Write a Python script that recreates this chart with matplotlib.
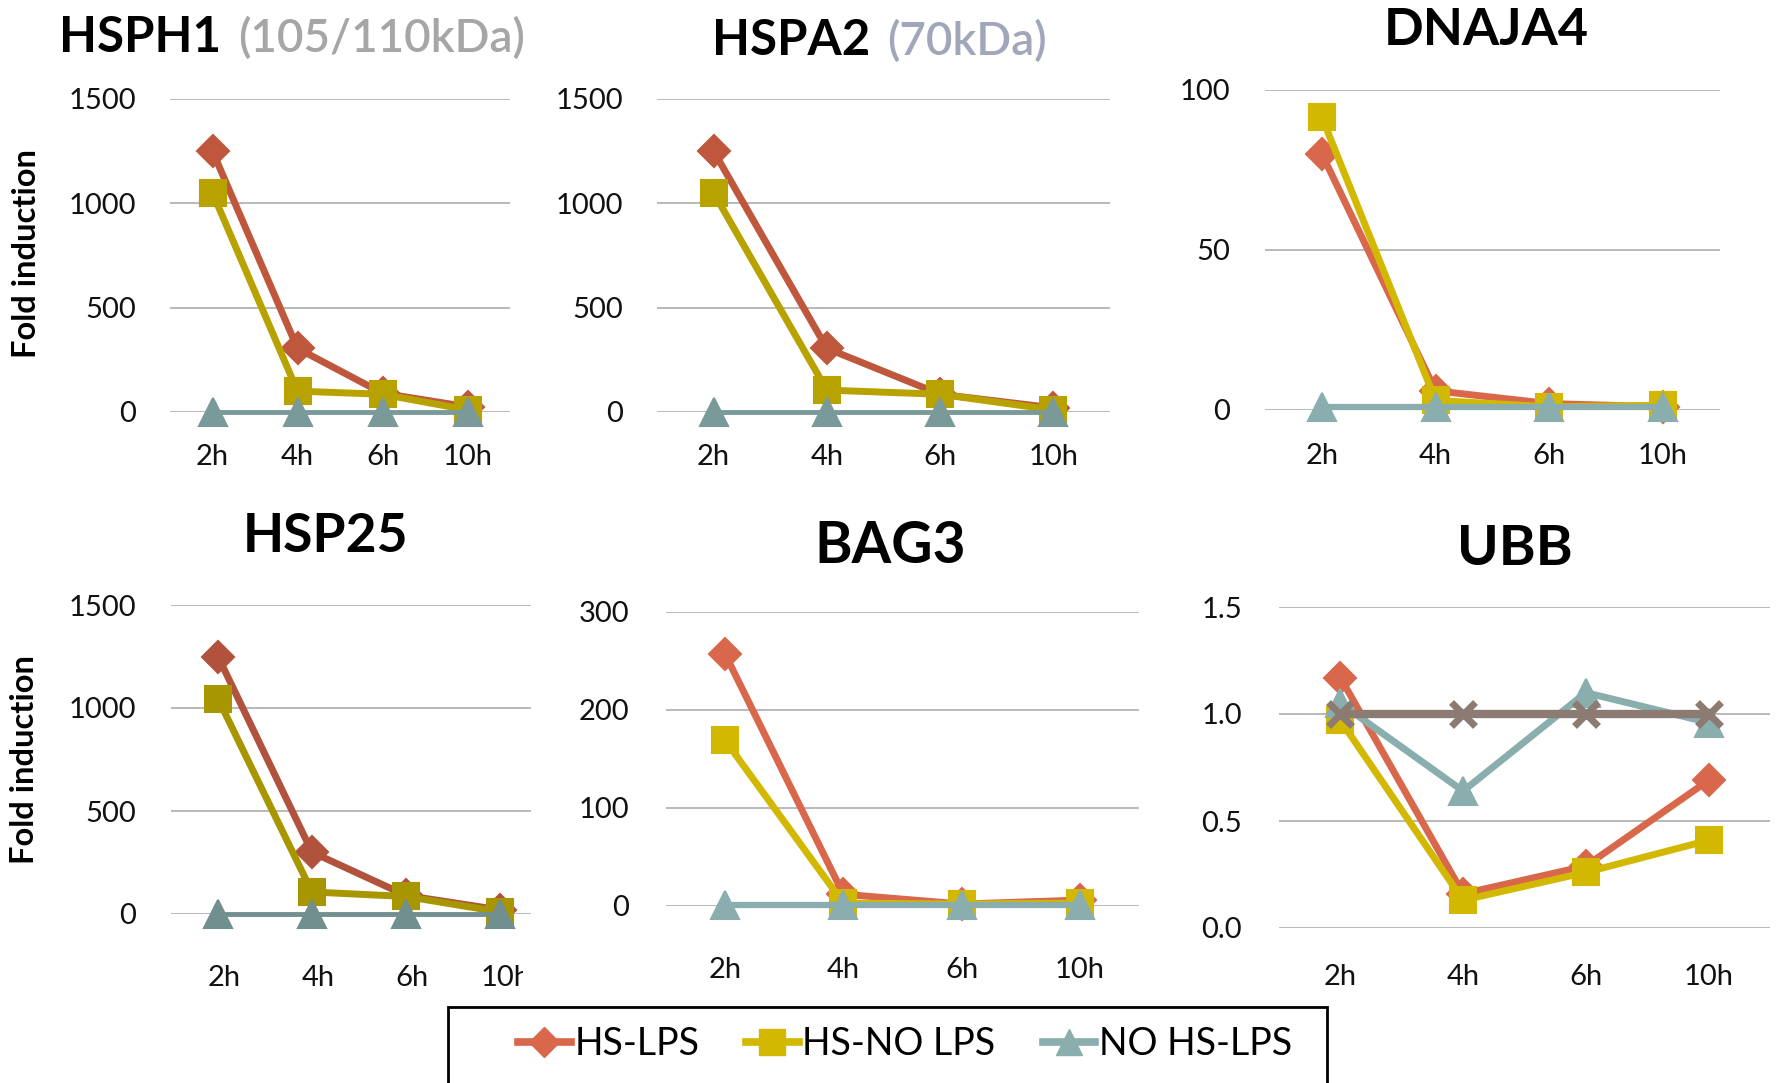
import matplotlib.pyplot as plt
import matplotlib.transforms as mtransforms
from matplotlib.lines import Line2D
from matplotlib.patches import Rectangle

plt.rcParams['font.family'] = ['Lato', 'DejaVu Sans']

W, H = 1779, 1083

times = ['2h', '4h', '6h', '10h']
series_names = ['HS-LPS', 'HS-NO LPS', 'NO HS-LPS']

# values (fold induction)
hsph1_hs_lps = [1250, 305, 90, 25]
hsph1_hs_nolps = [1050, 100, 85, 10]
hsph1_nohs_lps = [1, 1, 1, 1]

hspa2_hs_lps = [1250, 305, 85, 20]
hspa2_hs_nolps = [1050, 105, 85, 10]
hspa2_nohs_lps = [1, 1, 1, 1]

dnaja4_hs_lps = [80, 6, 2, 1]
dnaja4_hs_nolps = [91.5, 3, 1, 1.5]
dnaja4_nohs_lps = [1, 1, 1, 1]

hsp25_hs_lps = [1250, 300, 90, 20]
hsp25_hs_nolps = [1045, 107, 85, 10]
hsp25_nohs_lps = [1, 1, 1, 1]

bag3_hs_lps = [257, 12, 2, 6]
bag3_hs_nolps = [169, 3, 2, 3]
bag3_nohs_lps = [1, 1, 1, 1]

ubb_hs_lps = [1.17, 0.16, 0.29, 0.69]
ubb_hs_nolps = [0.97, 0.13, 0.26, 0.41]
ubb_nohs_lps = [1.05, 0.64, 1.10, 0.96]
ubb_control = [1.0, 1.0, 1.0, 1.0]

# colours: top-left panels and HSP25 come out darker in the original
dark = ['#BF573D', '#B8A200', '#7A9999']
darker = ['#B0523C', '#A89600', '#718F8F']
bright = ['#D9674B', '#D2B800', '#8AADAD']
brown = '#8B7B72'
grid_c = '#A6A6A6'


def box(x0, x1, ytop, ybot):
    return [x0 / W, 1 - ybot / H, (x1 - x0) / W, (ybot - ytop) / H]


panels = [
    dict(rect=box(170, 510, 99, 412), data=[hsph1_hs_lps, hsph1_hs_nolps, hsph1_nohs_lps],
         colors=dark, ylim=(0, 1500), yticks=[0, 500, 1000, 1500], ylabels=None,
         ypad=24.5, xpad=23, tlw=3.5),
    dict(rect=box(657, 1110, 99, 412), data=[hspa2_hs_lps, hspa2_hs_nolps, hspa2_nohs_lps],
         colors=dark, ylim=(0, 1500), yticks=[0, 500, 1000, 1500], ylabels=None,
         ypad=24.5, xpad=23, tlw=3.5),
    dict(rect=box(1265, 1720, 90, 410), data=[dnaja4_hs_lps, dnaja4_hs_nolps, dnaja4_nohs_lps],
         colors=bright, ylim=(0, 100), yticks=[0, 50, 100], ylabels=None,
         ypad=25, xpad=24, tlw=4.5),
    dict(rect=box(171, 547, 605, 914), data=[hsp25_hs_lps, hsp25_hs_nolps, hsp25_nohs_lps],
         colors=darker, ylim=(0, 1500), yticks=[0, 500, 1000, 1500], ylabels=None,
         ypad=25, xpad=37, tlw=3.5),
    dict(rect=box(666, 1139, 612, 906), data=[bag3_hs_lps, bag3_hs_nolps, bag3_nohs_lps],
         colors=bright, ylim=(0, 300), yticks=[0, 100, 200, 300], ylabels=None,
         ypad=26.5, xpad=37, tlw=4.5),
    dict(rect=box(1279, 1770, 607, 928), data=[ubb_hs_lps, ubb_hs_nolps, ubb_nohs_lps],
         colors=bright, ylim=(0, 1.5), yticks=[0, 0.5, 1.0, 1.5],
         ylabels=['0.0', '0.5', '1.0', '1.5'], ypad=26.5, xpad=26, tlw=5),
]

markers = [('D', 16.5), ('s', 19), ('^', 20)]

fig = plt.figure(figsize=(W / 100, H / 100), dpi=100)
axes = []
for p in panels:
    ax = fig.add_axes(p['rect'])
    x = range(len(times))
    for k, (vals, c) in enumerate(zip(p['data'], p['colors'])):
        m, ms = markers[k]
        lw = p['tlw'] if k == 2 else 5
        ax.plot(x, vals, color=c, lw=lw, marker=m, ms=ms, mfc=c, mec=c, mew=1.5,
                clip_on=False, zorder=3 + k, solid_joinstyle='round')
    ax.set_xlim(-0.5, len(times) - 0.5)
    ax.set_ylim(*p['ylim'])
    ax.set_yticks(p['yticks'])
    if p['ylabels']:
        ax.set_yticklabels(p['ylabels'])
    ax.set_xticks(list(x))
    ax.set_xticklabels(times)
    ax.tick_params(axis='y', length=0, pad=p['ypad'], labelsize=21, labelcolor='#111111')
    ax.tick_params(axis='x', length=0, pad=p['xpad'], labelsize=21, labelcolor='#111111')
    for s in ax.spines.values():
        s.set_visible(False)
    ax.yaxis.grid(True, color=grid_c, lw=1.1, zorder=0)
    ax.set_axisbelow(True)
    axes.append(ax)

# control series (x) only in UBB
axes[5].plot(range(len(times)), ubb_control, color=brown, lw=6, marker='x', ms=17, mew=5,
             clip_on=False, zorder=7)

# HSP25 labels sit a little right of the points, and the panel is cut off at the right
shift = mtransforms.ScaledTranslation(6 / 100, 0, fig.dpi_scale_trans)
for lab in axes[3].get_xticklabels():
    lab.set_transform(lab.get_transform() + shift)
fig.add_artist(Rectangle((531 / W, 1 - 940 / H), 32 / W, 400 / H, transform=fig.transFigure,
                         fc='white', ec='none', zorder=20))
fig.add_artist(Rectangle((523 / W, 1 - 1000 / H), 40 / W, 60 / H, transform=fig.transFigure,
                         fc='white', ec='none', zorder=20))


def ftext(x, y, s, **kw):
    return fig.text(x / W, 1 - y / H, s, **kw)


# titles
fig.canvas.draw()
r = fig.canvas.get_renderer()
t = ftext(59, 52, 'HSPH1', fontsize=35.5, fontweight='bold', va='baseline', ha='left')
e = t.get_window_extent(r)
fig.text((e.x1 + 17) / W, 1 - 52 / H, '(105/110kDa)', fontsize=33, color='#A6A6A6',
         fontweight='semibold', va='baseline', ha='left')
t = ftext(712, 55, 'HSPA2', fontsize=35.5, fontweight='bold', va='baseline', ha='left')
e = t.get_window_extent(r)
fig.text((e.x1 + 17) / W, 1 - 55 / H, '(70kDa)', fontsize=33, color='#A0A7BB',
         fontweight='semibold', va='baseline', ha='left')
ftext(1486, 45, 'DNAJA4', fontsize=37.5, fontweight='bold', va='baseline', ha='center')
ftext(326, 552, 'HSP25', fontsize=38.5, fontweight='bold', va='baseline', ha='center')
ftext(890, 563, 'BAG3', fontsize=41, fontweight='bold', va='baseline', ha='center')
ftext(1515, 565, 'UBB', fontsize=40.5, fontweight='bold', va='baseline', ha='center')

ftext(27, 254, 'Fold induction', rotation=90, fontsize=23.5, fontweight='bold',
      ha='center', va='center')
ftext(25, 760, 'Fold induction', rotation=90, fontsize=23.5, fontweight='bold',
      ha='center', va='center')

# legend with a box that runs past the bottom edge
handles = [Line2D([], [], color=c, lw=5.5, marker=m, ms=ms * 0.95, mfc=c, mec=c)
           for c, (m, ms) in zip(bright, markers)]
fig.legend(handles, series_names, loc='center', bbox_to_anchor=(905 / W, 1 - 1044 / H),
           ncol=3, frameon=False, fontsize=27, handlelength=1.4, handletextpad=0.1,
           columnspacing=1.25)
fig.add_artist(Rectangle((448 / W, 1 - 1110 / H), 879 / W, 103 / H, transform=fig.transFigure,
                         fill=False, ec='black', lw=2, clip_on=False))

fig.savefig('out.png', dpi=100)
